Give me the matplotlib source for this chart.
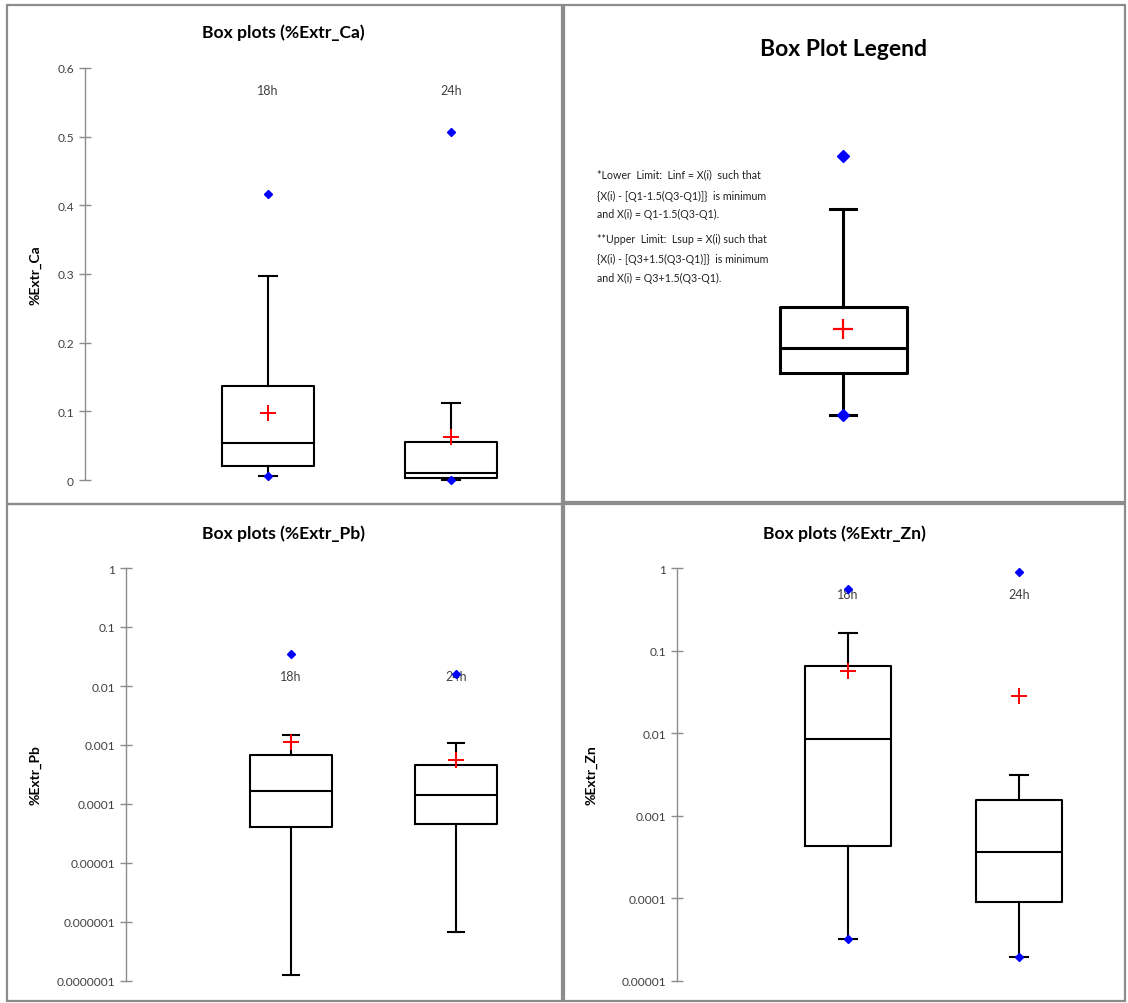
import matplotlib
matplotlib.use("Agg")
import matplotlib.pyplot as plt
from matplotlib.patches import Rectangle
from matplotlib.ticker import FixedLocator, FixedFormatter

plt.rcParams['font.family'] = ['Lato', 'DejaVu Sans']

# ---------------- data ----------------
categories = ["18h", "24h"]

ca_whislo = [0.0063, 0.0]
ca_q1 = [0.021, 0.0024]
ca_med = [0.054, 0.0107]
ca_q3 = [0.137, 0.055]
ca_whishi = [0.297, 0.112]
ca_mean = [0.097, 0.063]
ca_points = [[0.416, 0.0063], [0.507, 0.0]]
ca_ticks = [0, 0.1, 0.2, 0.3, 0.4, 0.5, 0.6]
ca_ticklabels = ["0", "0.1", "0.2", "0.3", "0.4", "0.5", "0.6"]

pb_whislo = [1.26e-7, 6.8e-7]
pb_q1 = [4.0e-5, 4.56e-5]
pb_med = [1.64e-4, 1.42e-4]
pb_q3 = [6.77e-4, 4.52e-4]
pb_whishi = [1.5e-3, 1.07e-3]
pb_mean = [1.11e-3, 5.65e-4]
pb_points = [[0.0351], [0.0157]]
pb_ticks = [1, 0.1, 0.01, 0.001, 0.0001, 0.00001, 0.000001, 0.0000001]
pb_ticklabels = ["1", "0.1", "0.01", "0.001", "0.0001", "0.00001",
                 "0.000001", "0.0000001"]

zn_whislo = [3.26e-5, 1.97e-5]
zn_q1 = [4.36e-4, 9.15e-5]
zn_med = [8.55e-3, 3.69e-4]
zn_q3 = [0.065, 1.57e-3]
zn_whishi = [0.163, 3.08e-3]
zn_mean = [0.057, 0.0286]
zn_points = [[0.557, 3.26e-5], [0.886, 1.97e-5]]
zn_ticks = [1, 0.1, 0.01, 0.001, 0.0001, 0.00001]
zn_ticklabels = ["1", "0.1", "0.01", "0.001", "0.0001", "0.00001"]

# illustrative box for the legend panel
legend_whislo = 1.43
legend_q1 = 2.63
legend_med = 3.34
legend_q3 = 4.51
legend_whishi = 7.31
legend_mean = 3.89
legend_points = [8.83, 1.43]

legend_lines = [
    "*Lower  Limit:  Linf = X(i)  such that",
    "{X(i) - [Q1-1.5(Q3-Q1)]}  is minimum",
    "and X(i) = Q1-1.5(Q3-Q1).",
    "**Upper  Limit:  Lsup = X(i) such that",
    "{X(i) - [Q3+1.5(Q3-Q1)]}  is minimum",
    "and X(i) = Q3+1.5(Q3-Q1).",
]

# ---------------- figure ----------------
W, H = 1128, 1004
fig = plt.figure(figsize=(W / 100, H / 100), dpi=100)


def fx(px):
    return px / W


def fy(py):
    return 1 - py / H


def add_ax(left, right, top, bottom):
    return fig.add_axes([fx(left), fy(bottom), fx(right) - fx(left), fy(top) - fy(bottom)])


# panel borders
for (x0, y0, x1, y1) in [(7, 6, 562, 505), (564, 6, 1125, 503),
                         (7, 505, 562, 1002), (564, 505, 1125, 1002)]:
    fig.add_artist(Rectangle((fx(x0), fy(y1)), fx(x1) - fx(x0), fy(y0) - fy(y1),
                             transform=fig.transFigure, fill=False,
                             edgecolor="#8c8c8c", linewidth=1.6))

LW = 1.5
boxprops = dict(color="black", linewidth=LW)
medianprops = dict(color="black", linewidth=LW)
whiskerprops = dict(color="black", linewidth=LW)
capprops = dict(color="black", linewidth=LW)
meanprops = dict(marker="+", markeredgecolor="red", markerfacecolor="red",
                 markersize=11, markeredgewidth=1.4, linestyle="none")
flierprops = dict(marker="D", markerfacecolor="#0000ff", markeredgecolor="#0000ff",
                  markersize=4.5, linestyle="none")


def make_stats(wl, q1, med, q3, wh, mean, pts):
    out = []
    for i in range(len(categories)):
        out.append(dict(whislo=wl[i], q1=q1[i], med=med[i], q3=q3[i], whishi=wh[i],
                        mean=mean[i], fliers=pts[i], label=categories[i]))
    return out


def draw_panel(ax, stats, ticks, ticklabels, ylabel, log, label_y, ylabel_x, ylim):
    if log:
        ax.set_yscale("log")
    art = ax.bxp(stats, positions=[1, 2], widths=0.5, capwidths=0.1,
                 showmeans=True, showfliers=True,
                 boxprops=boxprops, medianprops=medianprops,
                 whiskerprops=whiskerprops, capprops=capprops,
                 meanprops=meanprops, flierprops=flierprops)
    for k in art:
        for a in art[k]:
            a.set_clip_on(False)
    for a in art["fliers"]:
        a.set_zorder(5)
    ax.set_xlim(0, 2.5)
    ax.set_ylim(*ylim)
    ax.yaxis.set_major_locator(FixedLocator(ticks))
    ax.yaxis.set_major_formatter(FixedFormatter(ticklabels))
    ax.yaxis.set_minor_locator(FixedLocator([]))
    ax.set_xticks([])
    for s in ["top", "right", "bottom"]:
        ax.spines[s].set_visible(False)
    ax.spines["left"].set_color("#8c8c8c")
    ax.spines["left"].set_linewidth(1.0)
    ax.tick_params(axis="y", direction="inout", length=8, width=1.0, color="#8c8c8c",
                   labelsize=8.6, labelcolor="#404040", pad=4)
    ax.set_ylabel(ylabel, fontsize=10, fontweight="bold", color="black")
    ax.yaxis.set_label_coords(ylabel_x, 0.5)
    for i, c in enumerate(categories):
        ax.text(i + 1, label_y, c, transform=ax.get_xaxis_transform(),
                ha="center", va="center", fontsize=9, color="#404040")
    ax.patch.set_alpha(0)


TITLE_FS = 12.6

# Ca
ax1 = add_ax(85, 85 + 2.5 * 183, 69, 481)
draw_panel(ax1, make_stats(ca_whislo, ca_q1, ca_med, ca_q3, ca_whishi, ca_mean, ca_points),
           ca_ticks, ca_ticklabels, "%Extr_Ca", False, 0.947, -0.094, (0, 0.6))
fig.text(fx(283), fy(33), "Box plots (%Extr_Ca)", ha="center", va="center",
         fontsize=TITLE_FS, fontweight="bold")

# Pb
ax3 = add_ax(126, 126 + 2.5 * 165, 569, 982)
draw_panel(ax3, make_stats(pb_whislo, pb_q1, pb_med, pb_q3, pb_whishi, pb_mean, pb_points),
           pb_ticks, pb_ticklabels, "%Extr_Pb", True, 0.738, -0.206, (1e-7, 1))
fig.text(fx(284), fy(534), "Box plots (%Extr_Pb)", ha="center", va="center",
         fontsize=TITLE_FS, fontweight="bold")

# Zn
ax4 = add_ax(677, 677 + 2.5 * 171, 569, 982)
draw_panel(ax4, make_stats(zn_whislo, zn_q1, zn_med, zn_q3, zn_whishi, zn_mean, zn_points),
           zn_ticks, zn_ticklabels, "%Extr_Zn", True, 0.937, -0.185, (1e-5, 1))
fig.text(fx(844), fy(534), "Box plots (%Extr_Zn)", ha="center", va="center",
         fontsize=TITLE_FS, fontweight="bold")

# Legend panel
axl = add_ax(716, 970, 116, 466)
lstats = [dict(whislo=legend_whislo, q1=legend_q1, med=legend_med, q3=legend_q3,
               whishi=legend_whishi, mean=legend_mean, fliers=legend_points)]
LW2 = 2.2
lart = axl.bxp(lstats, positions=[0.5], widths=0.5, capwidths=0.106, showmeans=True,
               boxprops=dict(color="black", linewidth=LW2),
               medianprops=dict(color="black", linewidth=LW2),
               whiskerprops=dict(color="black", linewidth=LW2),
               capprops=dict(color="black", linewidth=LW2),
               meanprops=dict(marker="+", markeredgecolor="red", markersize=14,
                              markeredgewidth=1.6, linestyle="none"),
               flierprops=dict(marker="D", markerfacecolor="#0000ff",
                               markeredgecolor="#0000ff", markersize=6,
                               linestyle="none"))
for a in lart["fliers"]:
    a.set_zorder(5)
axl.set_xlim(0, 1)
axl.set_ylim(0, 10)
axl.axis("off")

fig.text(fx(843), fy(50), "Box Plot Legend", ha="center", va="center",
         fontsize=16.5, fontweight="bold")
line_y = [175, 196, 214, 239, 259, 278]
for t, yy in zip(legend_lines, line_y):
    fig.text(fx(597), fy(yy), t, ha="left", va="center", fontsize=7.7, color="#202020")

fig.savefig("out.png", dpi=100)
